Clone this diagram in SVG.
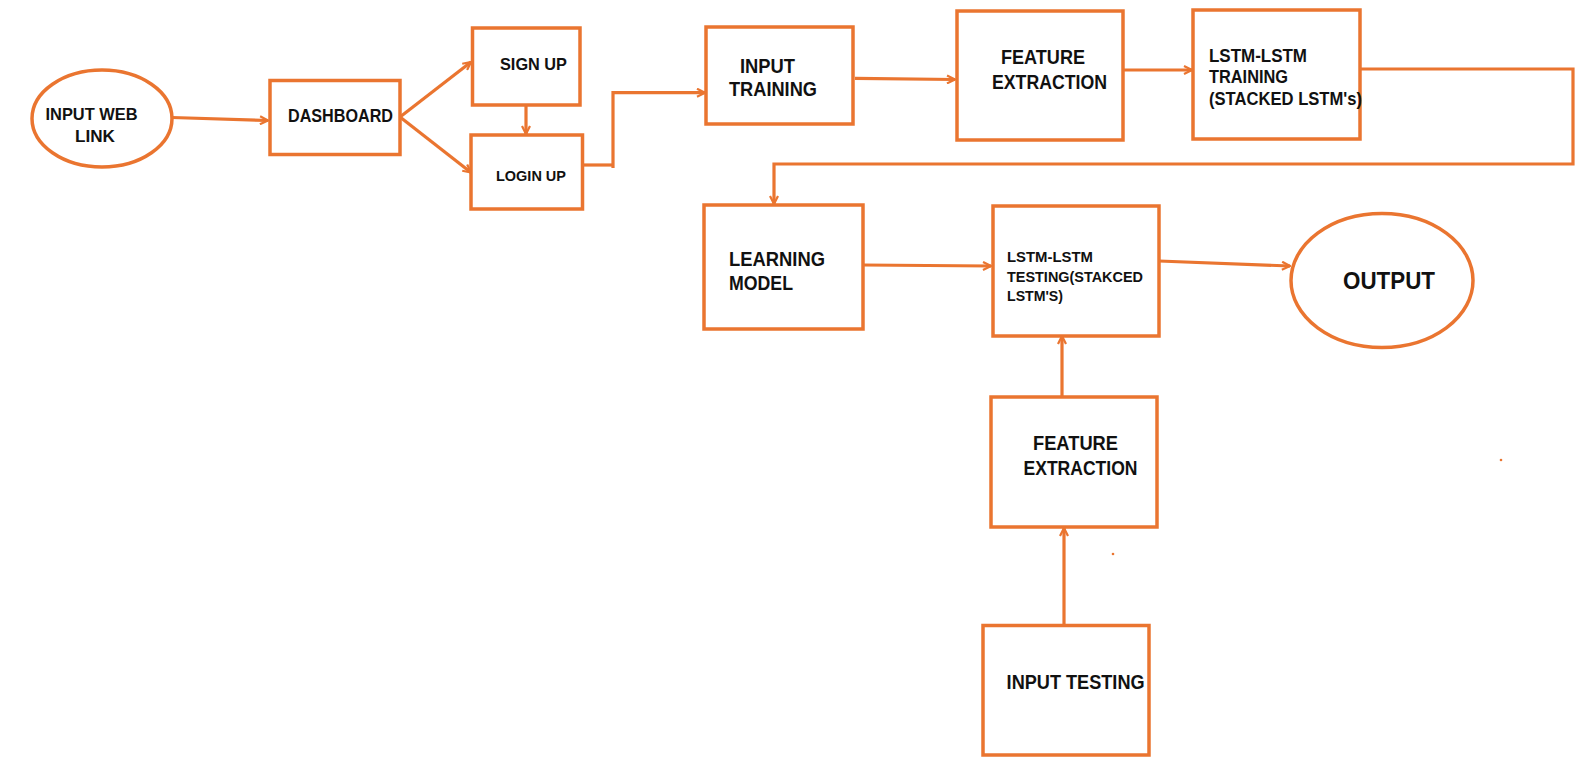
<svg xmlns="http://www.w3.org/2000/svg" width="1582" height="758" viewBox="0 0 1582 758">
<style>
.box{fill:#fff;stroke:#EA7530;stroke-width:3.5}
.ln{fill:none;stroke:#EA7530;stroke-width:3.2;stroke-linejoin:miter}
.t{font-family:"Liberation Sans",Arial,sans-serif;font-weight:bold;fill:#111}
</style>
<defs>
<marker id="ah" viewBox="0 0 10 10" refX="9" refY="5" markerWidth="10" markerHeight="10" markerUnits="userSpaceOnUse" orient="auto">
<path d="M1,1 L9,5 L1,9" fill="none" stroke="#EA7530" stroke-width="2.2"/>
</marker>
</defs>
<rect width="1582" height="758" fill="#fff"/>
<g id="connectors">
<path class="ln" d="M172,117.5 L268,120.5" marker-end="url(#ah)"/>
<path class="ln" d="M400,117 L471,62" marker-end="url(#ah)"/>
<path class="ln" d="M400,117 L471,172.5" marker-end="url(#ah)"/>
<path class="ln" d="M526,105 L526,134" marker-end="url(#ah)"/>
<path class="ln" d="M581,165 H613"/>
<path class="ln" d="M613,168 V92.7 H705" marker-end="url(#ah)"/>
<path class="ln" d="M855,78.3 L955,79.5" marker-end="url(#ah)"/>
<path class="ln" d="M1123,70 L1192,70" marker-end="url(#ah)"/>
<path class="ln" d="M1360,69 H1573 V164 H774 V204" marker-end="url(#ah)"/>
<path class="ln" d="M863,265 L991,266" marker-end="url(#ah)"/>
<path class="ln" d="M1159,261 L1290,266" marker-end="url(#ah)"/>
<path class="ln" d="M1062,397 L1062,336" marker-end="url(#ah)"/>
<path class="ln" d="M1064,625 L1064,528" marker-end="url(#ah)"/>
</g>
<g id="n-weblink">
<ellipse class="box" cx="102" cy="118.5" rx="70" ry="48.5"/>
<text class="t" font-size="17" x="45.5" y="120" textLength="92" lengthAdjust="spacingAndGlyphs">INPUT WEB</text>
<text class="t" font-size="17" x="75" y="141.7" textLength="40" lengthAdjust="spacingAndGlyphs">LINK</text>
</g>
<g id="n-dashboard">
<rect class="box" x="270" y="80.5" width="130" height="74"/>
<text class="t" font-size="18" x="288" y="121.7" textLength="105" lengthAdjust="spacingAndGlyphs">DASHBOARD</text>
</g>
<g id="n-signup">
<rect class="box" x="472.5" y="28" width="107.5" height="77"/>
<text class="t" font-size="16.5" x="500" y="70" textLength="67" lengthAdjust="spacingAndGlyphs">SIGN UP</text>
</g>
<g id="n-login">
<rect class="box" x="471" y="135" width="111.5" height="74"/>
<text class="t" font-size="15" x="496" y="181" textLength="70" lengthAdjust="spacingAndGlyphs">LOGIN UP</text>
</g>
<g id="n-inputtraining">
<rect class="box" x="706" y="27" width="147" height="97"/>
<text class="t" font-size="20" x="740" y="72.7" textLength="55" lengthAdjust="spacingAndGlyphs">INPUT</text>
<text class="t" font-size="20" x="729" y="96" textLength="88" lengthAdjust="spacingAndGlyphs">TRAINING</text>
</g>
<g id="n-feature1">
<rect class="box" x="957" y="11" width="166" height="129"/>
<text class="t" font-size="20" x="1001" y="64" textLength="84" lengthAdjust="spacingAndGlyphs">FEATURE</text>
<text class="t" font-size="20" x="992" y="89.3" textLength="115" lengthAdjust="spacingAndGlyphs">EXTRACTION</text>
</g>
<g id="n-lstmtraining">
<rect class="box" x="1193" y="10" width="167" height="129"/>
<text class="t" font-size="17.5" x="1209" y="61.7" textLength="98" lengthAdjust="spacingAndGlyphs">LSTM-LSTM</text>
<text class="t" font-size="17.5" x="1209" y="83.3" textLength="79" lengthAdjust="spacingAndGlyphs">TRAINING</text>
<text class="t" font-size="17.5" x="1209" y="105" textLength="153" lengthAdjust="spacingAndGlyphs">(STACKED LSTM's)</text>
</g>
<g id="n-learning">
<rect class="box" x="704" y="205" width="159" height="124"/>
<text class="t" font-size="20" x="729" y="266" textLength="96" lengthAdjust="spacingAndGlyphs">LEARNING</text>
<text class="t" font-size="20" x="729" y="290" textLength="64" lengthAdjust="spacingAndGlyphs">MODEL</text>
</g>
<g id="n-lstmtesting">
<rect class="box" x="993" y="206" width="166" height="130"/>
<text class="t" font-size="15" x="1007" y="262.3" textLength="86" lengthAdjust="spacingAndGlyphs">LSTM-LSTM</text>
<text class="t" font-size="15" x="1007" y="281.7" textLength="136" lengthAdjust="spacingAndGlyphs">TESTING(STAKCED</text>
<text class="t" font-size="15" x="1007" y="301" textLength="56" lengthAdjust="spacingAndGlyphs">LSTM'S)</text>
</g>
<g id="n-output">
<ellipse class="box" cx="1382" cy="280.5" rx="91" ry="67"/>
<text class="t" font-size="24.5" x="1343" y="289.3" textLength="92" lengthAdjust="spacingAndGlyphs">OUTPUT</text>
</g>
<g id="n-feature2">
<rect class="box" x="991" y="397" width="166" height="130"/>
<text class="t" font-size="19.5" x="1033" y="450" textLength="85" lengthAdjust="spacingAndGlyphs">FEATURE</text>
<text class="t" font-size="19.5" x="1023.5" y="475" textLength="114" lengthAdjust="spacingAndGlyphs">EXTRACTION</text>
</g>
<g id="n-inputtesting">
<rect class="box" x="983" y="625.5" width="166" height="129.5"/>
<text class="t" font-size="20" x="1006.6" y="689.3" textLength="138" lengthAdjust="spacingAndGlyphs">INPUT TESTING</text>
</g>
<circle cx="1113" cy="554" r="1.3" fill="#EA7530"/>
<circle cx="1501" cy="460" r="1.3" fill="#EA7530"/>
</svg>
